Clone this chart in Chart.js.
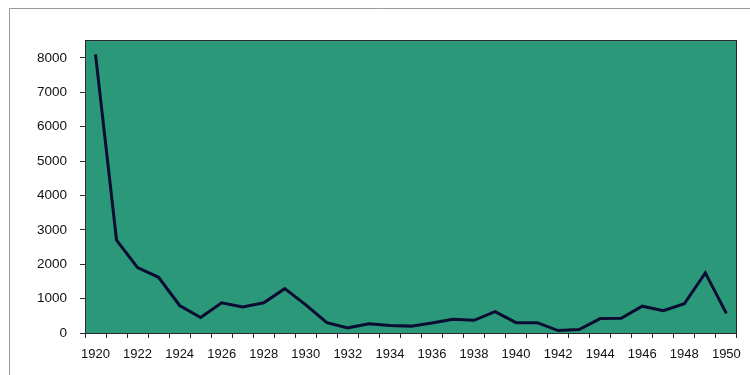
<!DOCTYPE html>
<html>
<head>
<meta charset="utf-8">
<script src="https://cdn.jsdelivr.net/npm/chart.js@4/dist/chart.umd.min.js"></script>
<style>
  html, body { margin: 0; padding: 0; background: #ffffff; }
  #wrap { width: 750px; height: 375px; position: relative; }
</style>
</head>
<body>
<div id="wrap"><canvas id="c" width="750" height="375"></canvas></div>
<script>
// Annual figures, 1920–1950
const years = [1920,1921,1922,1923,1924,1925,1926,1927,1928,1929,
               1930,1931,1932,1933,1934,1935,1936,1937,1938,1939,
               1940,1941,1942,1943,1944,1945,1946,1947,1948,1949,1950];
const values = [8100,2700,1900,1620,800,450,880,760,880,1290,
                820,300,150,270,220,200,290,400,370,620,
                300,300,70,100,420,430,780,650,850,1750,570];
const yTicks = [0,1000,2000,3000,4000,5000,6000,7000,8000];

// Frame around the chart and the filled, outlined plot area
const framePlugin = {
  id: 'frame',
  beforeDraw(chart) {
    const ctx = chart.ctx;
    const a = chart.chartArea;
    ctx.save();
    ctx.fillStyle = '#2b987a';
    ctx.fillRect(a.left, a.top, a.right - a.left, a.bottom - a.top);
    ctx.strokeStyle = '#9a9a9a';
    ctx.lineWidth = 1;
    ctx.beginPath();
    ctx.moveTo(9.5, 375);
    ctx.lineTo(9.5, 8.5);
    ctx.lineTo(750, 8.5);
    ctx.stroke();
    ctx.restore();
  },
  afterDraw(chart) {
    const ctx = chart.ctx;
    const a = chart.chartArea;
    ctx.save();
    ctx.strokeStyle = '#2a2a2a';
    ctx.lineWidth = 1;
    ctx.strokeRect(Math.round(a.left) + 0.5, Math.round(a.top) + 0.5,
                   Math.round(a.right - a.left) - 1, Math.round(a.bottom - a.top));
    ctx.restore();
  }
};

new Chart(document.getElementById('c'), {
  type: 'line',
  data: {
    labels: years.map(String),
    datasets: [{
      data: values,
      borderColor: '#0c0c32',
      borderWidth: 3,
      pointRadius: 0,
      tension: 0,
      fill: false
    }]
  },
  options: {
    responsive: false,
    animation: false,
    layout: { padding: { top: 40, right: 11, left: 0, bottom: 0 } },
    plugins: { legend: { display: false }, tooltip: { enabled: false } },
    scales: {
      x: {
        type: 'category',
        offset: true,
        grid: { offset: true, drawOnChartArea: false, drawTicks: true, tickLength: 5, color: '#2a2a2a' },
        border: { color: '#2a2a2a' },
        ticks: {
          autoSkip: false,
          maxRotation: 0,
          padding: 9,
          color: '#111',
          font: { family: 'Liberation Sans, Arial, sans-serif', size: 13 },
          callback: function(v, i) { return years[i] % 2 === 0 ? String(years[i]) : ''; }
        },
        afterFit(scale) { scale.height = 42; }
      },
      y: {
        min: 0,
        max: 8520,
        afterBuildTicks(scale) { scale.ticks = yTicks.map(v => ({ value: v })); },
        grid: { drawOnChartArea: false, drawTicks: true, tickLength: 5, color: '#2a2a2a' },
        border: { color: '#2a2a2a' },
        ticks: {
          padding: 13,
          color: '#111',
          font: { family: 'Liberation Sans, Arial, sans-serif', size: 13.5 },
          callback: v => String(v)
        },
        afterFit(scale) { scale.width = 85; }
      }
    }
  },
  plugins: [framePlugin]
});
</script>
</body>
</html>
